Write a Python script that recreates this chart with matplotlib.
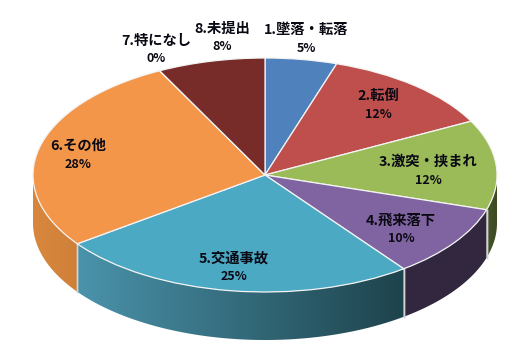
import numpy as np
import matplotlib
matplotlib.use("Agg")
import matplotlib.pyplot as plt
from matplotlib.colors import to_rgb
from matplotlib.patches import Polygon

plt.rcParams['font.family'] = ['Noto Sans CJK JP', 'DejaVu Sans']

categories = ["1.墜落・転落", "2.転倒", "3.激突・挟まれ", "4.飛来落下",
              "5.交通事故", "6.その他", "7.特になし", "8.未提出"]
values = [5.0, 12.4, 12.4, 10.0, 25.2, 27.5, 0.0, 7.5]
percent_labels = ["5%", "12%", "12%", "10%", "25%", "28%", "0%", "8%"]

top_colors = ["#4F81BD", "#BE4F4C", "#9BBB59", "#8064A2",
              "#4BA9C4", "#F4964A", "#772C2A", "#772C2A"]
wall_left = ["#3A5F8A", "#8C3A38", "#46552A", "#32273F",
             "#4A93AB", "#D9873F", "#57201F", "#57201F"]
wall_right = ["#3A5F8A", "#8C3A38", "#3C4820", "#32273F",
              "#1E434C", "#CF8038", "#57201F", "#57201F"]

W, H = 527, 356
CX, CY, RX, RY, DEPTH = 265.0, 175.0, 232.0, 117.0, 48.0
label_px = [(306, 30), (378, 96), (428, 162), (401, 221),
            (234, 259), (78, 146), (156, 41), (222, 29)]

fig = plt.figure(figsize=(W / 100, H / 100), dpi=100)
ax = fig.add_axes([0, 0, 1, 1])

wedges, _ = ax.pie(values, startangle=90, counterclock=False, colors=top_colors,
                   radius=1.0, center=(0, 0),
                   wedgeprops=dict(edgecolor="#F4F4F4", linewidth=0.9, zorder=5))
ax.set_aspect("auto")
xlim = (-CX / RX, (W - CX) / RX)
ylim = ((CY - H) / RY, CY / RY)

d = DEPTH / RY
for w, cl, cr in zip(wedges, wall_left, wall_right):
    lo = w.theta1 % 360
    hi = lo + (w.theta2 - w.theta1)
    ranges = [(max(lo, 180), min(hi, 360)), (max(lo, 540) - 360, min(hi, 720) - 360)]
    for a, b in ranges:
        if b <= a:
            continue
        t = np.radians(np.linspace(a, b, 200))
        x, y = np.cos(t), np.sin(t)
        verts = np.column_stack([np.r_[x, x[::-1]], np.r_[y, y[::-1] - d]])
        poly = Polygon(verts, closed=True, facecolor="none", edgecolor="none", zorder=2)
        ax.add_patch(poly)
        x0, x1 = x.min(), x.max()
        # colours run with the wall's direction of travel along the front (left to right)
        c_l, c_r = np.array(to_rgb(cl)), np.array(to_rgb(cr))
        grad = np.linspace(0, 1, 256)[None, :, None] * (c_r - c_l) + c_l
        im = ax.imshow(grad, extent=(x0, x1, y.min() - d, y.max() + 0.01),
                       aspect="auto", zorder=2, interpolation="bilinear")
        im.set_clip_path(poly)
        for ang in (a, b):
            if 180 < ang < 360:
                xe, ye = np.cos(np.radians(ang)), np.sin(np.radians(ang))
                ax.plot([xe, xe], [ye, ye - d], color="#D4D4D4", lw=1.0, zorder=3)

ax.set_xlim(*xlim)
ax.set_ylim(*ylim)
ax.axis("off")

for name, pct, (px, py) in zip(categories, percent_labels, label_px):
    fig.text(px / W, 1 - py / H, name, ha="center", va="center", fontsize=10.3,
             fontweight="bold", color="#0A0A14", zorder=10)
    fig.text(px / W, 1 - (py + 18) / H, pct, ha="center", va="center", fontsize=9,
             fontweight="bold", color="#0A0A14", zorder=10)

fig.savefig("out.png", dpi=100, facecolor="white")
